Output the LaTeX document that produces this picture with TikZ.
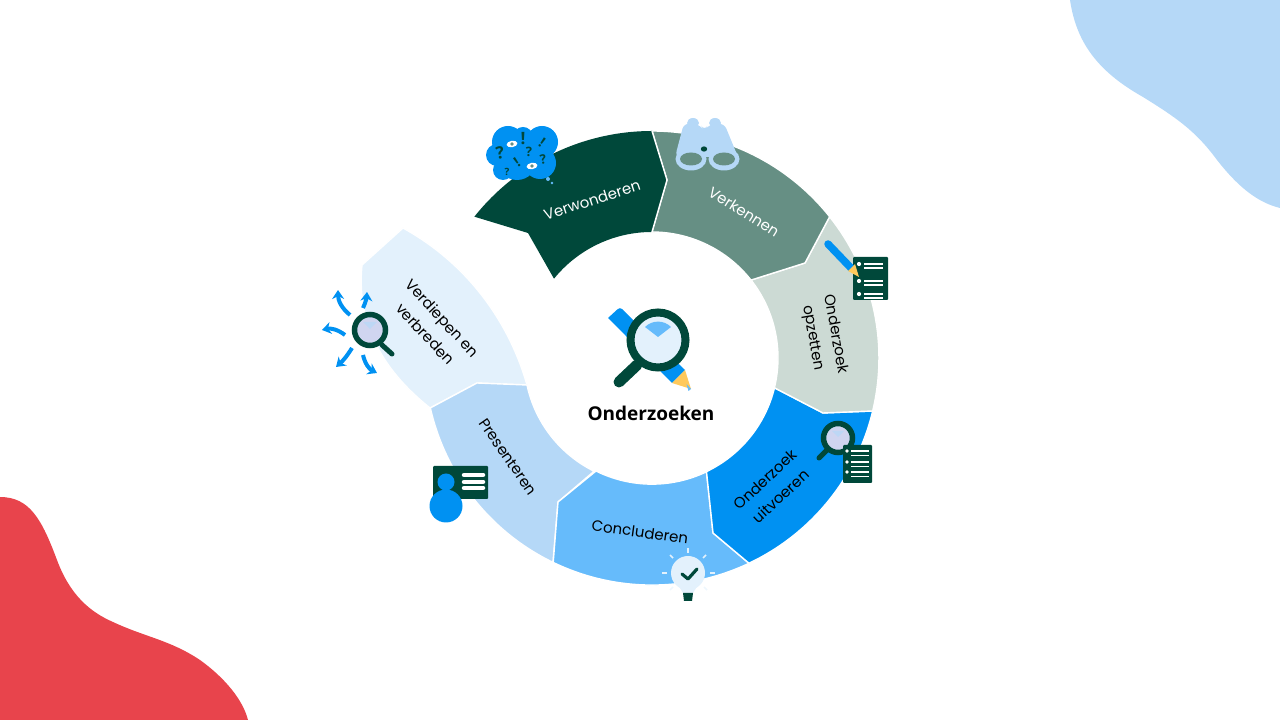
\documentclass[tikz,border=0pt]{standalone}
\usepackage{fontspec}
\setmainfont{Poppins}
\newfontfamily\kopfont{Open Sans}
\usetikzlibrary{arrows.meta}

\definecolor{donker}{HTML}{00483A}
\definecolor{grijsgroen}{HTML}{668F84}
\definecolor{lichtgroen}{HTML}{CCDAD4}
\definecolor{felblauw}{HTML}{0091F2}
\definecolor{midblauw}{HTML}{66BBFB}
\definecolor{zachtblauw}{HTML}{B5D8F7}
\definecolor{ijsblauw}{HTML}{E3F1FC}
\definecolor{blobrood}{HTML}{E8444C}
\definecolor{lavendel}{HTML}{D0D5F0}
\definecolor{geel}{HTML}{FFC95C}

\tikzset{
  segment/.style={draw=white, line width=1.4pt, line join=round},
  ringlabel/.style={font=\fontsize{15}{23}\selectfont, align=center, text=black},
  lens/.style={draw=donker, fill=lavendel, line width=5.5pt},
  handle/.style={draw=donker, line width=5pt, line cap=round},
  docline/.style={draw=white, line width=1.6pt},
  rayline/.style={draw=ijsblauw, line width=1.6pt},
  spread/.style={draw=felblauw, line width=4pt, -{Stealth[length=9pt,width=12pt]}},
  mark/.style={text=donker, font=\kopfont\bfseries\fontsize{#1}{#1}\selectfont, inner sep=0pt},
  mark/.default=11
}

\begin{document}
\begin{tikzpicture}[x=1pt,y=1pt]
  \useasboundingbox (0,0) rectangle (1280,720);

  % Corner blobs
  \fill[zachtblauw] (1070,720) .. controls (1076,680) and (1095,650) .. (1143,623) .. controls (1175,603) and (1195,590) .. (1217,560) .. controls (1235,537) and (1255,518) .. (1280,512) -- (1280,720) -- cycle;
  \fill[blobrood] (0,223) .. controls (30,223) and (42,200) .. (57,160) .. controls (70,125) and (90,108) .. (113,98) .. controls (145,83) and (170,80) .. (200,60) .. controls (225,42) and (243,20) .. (248,0) -- (0,0) -- cycle;

  % Ring segments
  \draw[segment, fill=ijsblauw] (430,312) .. controls (395,340) and (355,385) .. (362,455) -- (403,492) .. controls (470,455) and (510,395) .. (527,335) -- (477,337) -- cycle;
  \draw[segment, fill=zachtblauw] (553,157.6) arc[start angle=-115.8, end angle=-167.3, radius=227] -- (477,337) -- (527,335) arc[start angle=-167.8, end angle=-116.4, radius=126] -- (558,218) -- cycle;
  \draw[segment, fill=midblauw] (749,156.7) arc[start angle=-64.7, end angle=-115.8, radius=227] -- (558,218) -- (596,249) arc[start angle=-116.4, end angle=-64.4, radius=126] -- (713,187) -- cycle;
  \draw[segment, fill=felblauw] (872.7,309) arc[start angle=-13.5, end angle=-64.7, radius=227] -- (713,187) -- (706.5,248.4) arc[start angle=-64.4, end angle=-13.7, radius=126] -- (823,307) -- cycle;
  \draw[segment, fill=lichtgroen] (829.6,503.3) arc[start angle=38.5, end angle=-13.5, radius=227] -- (823,307) -- (774.4,332.2) arc[start angle=-13.7, end angle=38.2, radius=126] -- (805,457) -- cycle;
  \draw[segment, fill=grijsgroen] (652,589) arc[start angle=90, end angle=38.5, radius=227] -- (805,457) -- (751,439.9) arc[start angle=38.2, end angle=90, radius=126] -- (667,540) -- cycle;
  \fill[donker] (652,589) arc[start angle=90, end angle=141.5, radius=227] -- (528,487) -- (554,441.3) arc[start angle=141, end angle=90, radius=126] -- (667,540) -- cycle;
  \draw[white, line width=1.4pt, line join=round] (652,589) -- (667,540) -- (652,488);

  % Labels on the ring
  \node[ringlabel, text=white, rotate=18] (verwonderen) at (592,520) {Verwonderen};
  \node[ringlabel, text=white, rotate=-32] (verkennen) at (744,508) {Verkennen};
  \node[ringlabel, rotate=-80] (opzetten) at (824,384) {Onderzoek\\opzetten};
  \node[ringlabel, rotate=43] (uitvoeren) at (773,232) {Onderzoek\\uitvoeren};
  \node[ringlabel, rotate=-8] (concluderen) at (640,188) {Concluderen};
  \node[ringlabel, rotate=-55] (presenteren) at (508,263) {Presenteren};
  \node[ringlabel, rotate=-47] (verdiepen) at (434,394) {Verdiepen en\\verbreden};

  % Centre
  \fill[felblauw] (608,402) [rounded corners=3pt] -- (620,413) -- (640,393) [sharp corners] -- (685,350) -- (672,337) -- (625,385) -- cycle;
  \fill[geel] (672,337) -- (685,350) -- (691,331) -- cycle;
  \fill[midblauw] (686.5,336) -- (688.5,329) -- (691,331) -- cycle;
  \draw[handle, line width=11pt] (637,355) -- (619,338);
  \draw[donker, fill=ijsblauw, line width=8pt] (658,380) circle (27.5);
  \fill[midblauw] (645,393) arc[start angle=135, end angle=45, radius=18.4] -- (658,383) -- cycle;
  \node[font=\kopfont\bfseries\fontsize{19}{19}\selectfont, text=black] (onderzoeken) at (651,307) {Onderzoeken};

  % Thought cloud
  \foreach \cx/\cy/\cr in {508/578/16, 542/578/16, 517/560/20, 497/565/11, 503/550/10, 540/557/16, 523/583/10, 528/570/18}
    \fill[felblauw] (\cx,\cy) circle (\cr);
  \fill[midblauw] (548,541) circle (2);
  \fill[midblauw] (552,537) circle (1.3);
  \node[mark=17] (uitroep1) at (523,581) {!};
  \node[mark=14, rotate=-35] (uitroep2) at (542,577) {!};
  \node[mark=14, rotate=35] (uitroep3) at (517,558) {!};
  \node[mark=17, rotate=10] (vraag1) at (500,567) {?};
  \node[mark=13] (vraag2) at (529,568) {?};
  \node[mark=13, rotate=10] (vraag3) at (543,561) {?};
  \node[mark=10] (vraag4) at (507,548) {?};
  \foreach \ex/\ey in {512/576, 532/554} {
    \fill[white, rotate around={10:(\ex,\ey)}] (\ex,\ey) ellipse (5.5 and 3.2);
    \fill[grijsgroen] (\ex,\ey) circle (1.9);
  }

  % Binoculars
  \fill[zachtblauw] (693,597) ellipse (6 and 5);
  \fill[zachtblauw] (715,597) ellipse (6 and 5);
  \fill[zachtblauw, rounded corners=6pt] (684,597) -- (701,595) -- (704,589) -- (708,595) -- (724,597) -- (738,563) -- (675,563) -- cycle;
  \fill[zachtblauw] (691,561) ellipse (15.5 and 11.5);
  \fill[zachtblauw] (724,561) ellipse (15.5 and 11.5);
  \fill[grijsgroen] (691,561) ellipse (11 and 6.5);
  \fill[grijsgroen] (724,561) ellipse (11 and 6.5);
  \fill[donker] (704,571) ellipse (3.2 and 2.6);

  % Pencil and list
  \fill[donker, rounded corners=1pt] (853,420) rectangle (888,463);
  \foreach \ly in {456,439,426} {
    \fill[white] (859,\ly) circle (2.1);
    \draw[docline] (864,\ly) -- (883,\ly);
    \draw[docline] (864,\ly-4) -- (883,\ly-4);
  }
  \draw[felblauw, line width=7.5pt, line cap=round] (828,476) -- (851,452);
  \fill[geel] (848,449) -- (855,456) -- (859,443) -- cycle;

  % Lens and list
  \draw[handle] (827,270) -- (819,262);
  \draw[lens] (838,282) circle (14.5);
  \fill[zachtblauw!70!lavendel] (832,289) -- (844,289) -- (838,283) -- cycle;
  \fill[donker, rounded corners=1pt] (843,237) rectangle (872,275);
  \foreach \ly in {269,258,248} {
    \fill[white] (847,\ly) circle (1.8);
    \draw[docline] (851,\ly) -- (869,\ly);
    \draw[docline] (851,\ly-4.5) -- (869,\ly-4.5);
  }

  % Bulb
  \fill[ijsblauw] (688,147) circle (17);
  \fill[ijsblauw] (678,135) -- (698,135) -- (693,127) -- (683,127) -- cycle;
  \draw[donker, line width=3.2pt, line cap=round, line join=round] (682,146) -- (688,141) -- (697,151);
  \fill[donker] (683,127) -- (693,127) -- (692,119) -- (684,119) -- cycle;
  \foreach \rx/\ry/\sx/\sy in {688/172/688/167, 670/165/673/162, 706/165/703/162, 662/147/667/147, 715/147/710/147}
    \draw[rayline] (\rx,\ry) -- (\sx,\sy);
  \foreach \rx/\ry/\sx/\sy in {670/130/673/133, 707/130/704/133}
    \draw[rayline, opacity=0.6] (\rx,\ry) -- (\sx,\sy);

  % Presentation card
  \fill[donker, rounded corners=1pt] (433,221) rectangle (488,254);
  \fill[felblauw] (446,238) circle (8.5);
  \fill[felblauw] (446,214) circle (16.5);
  \foreach \ly in {245,238,232}
    \draw[white, line width=4.5pt, line cap=round] (464,\ly) -- (483,\ly);

  % Lens with arrows
  \draw[handle] (382,375) -- (392,366);
  \draw[lens] (370,390) circle (15.5);
  \fill[zachtblauw!70!lavendel] (363,398) -- (377,398) -- (370,391) -- cycle;
  \draw[spread] (350,405) to[bend left=25] (338,430);
  \draw[spread] (363,412) to[bend right=10] (367,428);
  \draw[spread] (345,385) to[bend right=25] (322,390);
  \draw[spread] (352,372) to[bend left=8] (336,353);
  \draw[spread] (363,365) to[bend right=25] (377,347);
\end{tikzpicture}
\end{document}
